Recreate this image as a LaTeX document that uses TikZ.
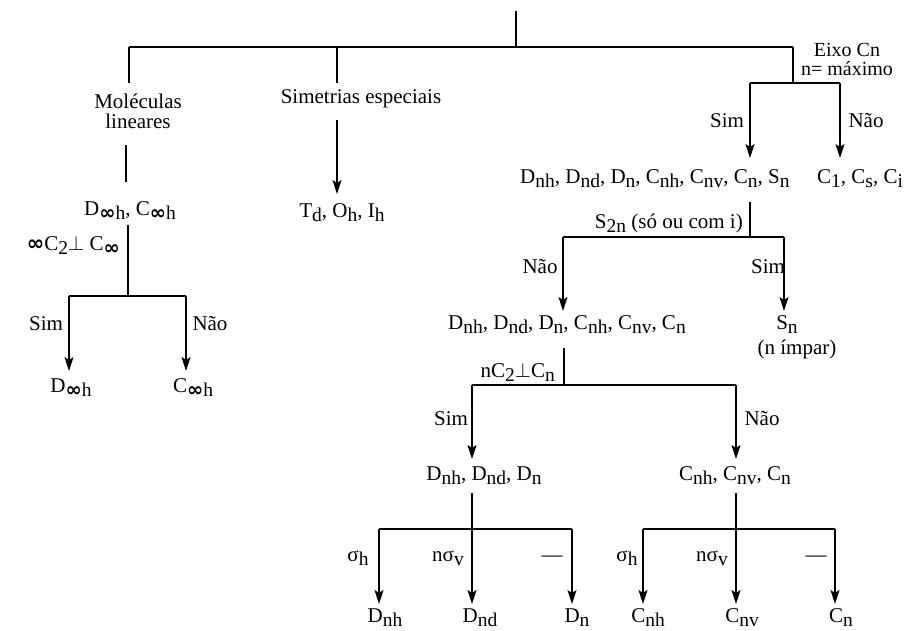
\documentclass[tikz,border=0pt]{standalone}
\usepackage{fontspec}
\setmainfont{Liberation Serif}
\newfontfamily\symf{DejaVu Sans}
\usetikzlibrary{arrows.meta}
\newcommand\lo[1]{\raisebox{-4pt}{\fontsize{19.5}{19.5}\selectfont #1}}
\newcommand\inff{{\symf\bfseries ∞}}
\begin{document}
\begin{tikzpicture}[x=1pt,y=-1pt,
  txt/.style={inner sep=0pt,anchor=base,font=\fontsize{21}{21}\selectfont},
  txtr/.style={txt,anchor=base east},
  txtl/.style={txt,anchor=base west},
  ln/.style={line width=1.1pt},
  arr/.style={ln,-{Stealth[length=14pt,width=9pt,inset=3pt]}}]
\useasboundingbox (0,0) rectangle (909,630);
% ---------- coordinates ----------
\coordinate (top) at (516,11);
\coordinate (j0) at (516,47);
\coordinate (jl) at (129,47);
\coordinate (jm) at (337,47);
\coordinate (jr) at (793,47);
\coordinate (lA) at (129,83);
\coordinate (mA) at (337,83);
\coordinate (rA) at (793,83);
\coordinate (rL) at (750,83);
\coordinate (rR) at (840,83);
\coordinate (rLt) at (750,158);
\coordinate (rRt) at (840,158);
\coordinate (mB) at (337,120);
\coordinate (mBt) at (337,194);
\coordinate (lB) at (126,145);
\coordinate (lBb) at (126,182);
\coordinate (lC) at (128,225);
\coordinate (lCj) at (128,296);
\coordinate (lCl) at (69,296);
\coordinate (lCr) at (186,296);
\coordinate (lClt) at (69,371);
\coordinate (lCrt) at (186,371);
\coordinate (sA) at (750,202);
\coordinate (sJ) at (750,237);
\coordinate (sL) at (563,237);
\coordinate (sR) at (784,237);
\coordinate (sLt) at (563,311);
\coordinate (sRt) at (784,311);
\coordinate (nA) at (564,348);
\coordinate (nJ) at (564,385);
\coordinate (nL) at (472,385);
\coordinate (nR) at (736,385);
\coordinate (nLt) at (472,459);
\coordinate (nRt) at (736,459);
\coordinate (dA) at (472,493);
\coordinate (dJ) at (472,529);
\coordinate (dL) at (379,529);
\coordinate (dR) at (572,529);
\coordinate (dLt) at (379,604);
\coordinate (dMt) at (472,604);
\coordinate (dRt) at (572,604);
\coordinate (cA) at (736,493);
\coordinate (cJ) at (736,529);
\coordinate (cL) at (643,529);
\coordinate (cR) at (835,529);
\coordinate (cLt) at (643,604);
\coordinate (cMt) at (736,604);
\coordinate (cRt) at (835,604);
% ---------- texts ----------
\node[txt] (mol1) at (138,108) {Moléculas};
\node[txt] (mol2) at (138,128) {lineares};
\node[txt] (esp) at (361,103) {Simetrias especiais};
\node[inner sep=0pt,anchor=center,align=center,font=\fontsize{20}{19}\selectfont] (eixo) at (847,59.5) {Eixo Cn\\n= máximo};
\node[txt] (simA) at (727,127) {Sim};
\node[txt] (naoA) at (866,127) {Não};
\node[txtl] (grpA) at (520,183) {D\lo{nh}, D\lo{nd}, D\lo{n}, C\lo{nh}, C\lo{nv}, C\lo{n}, S\lo{n}};
\node[txtl] (low) at (817,183) {C\lo{1}, C\lo{s}, C\lo{i}};
\node[txt] (toi) at (342,217) {T\lo{d}, O\lo{h}, I\lo{h}};
\node[txt] (lin) at (130,215) {D\lo{\inff h}, C\lo{\inff h}};
\node[txtr] (perpA) at (120,250) {\inff C\lo{2}$\perp$ C\lo{\inff}};
\node[txt] (simL) at (46,330) {Sim};
\node[txt] (naoL) at (210,330) {Não};
\node[txt] (dinf) at (71,392) {D\lo{\inff h}};
\node[txt] (cinf) at (193,392) {C\lo{\inff h}};
\node[txtr] (s2n) at (743,228) {S\lo{2n} (só ou com i)};
\node[txt] (naoS) at (540,273) {Não};
\node[txt] (simS) at (768,273) {Sim};
\node[txt] (grpB) at (567,329) {D\lo{nh}, D\lo{nd}, D\lo{n}, C\lo{nh}, C\lo{nv}, C\lo{n}};
\node[txt] (sn) at (787,329) {S\lo{n}};
\node[txt] (impar) at (797,354) {(n ímpar)};
\node[txtr] (perpB) at (555,377) {nC\lo{2}$\perp$C\lo{n}};
\node[txt] (simN) at (451,425) {Sim};
\node[txt] (naoN) at (762,425) {Não};
\node[txt] (grpD) at (484,480) {D\lo{nh}, D\lo{nd}, D\lo{n}};
\node[txt] (grpC) at (735,480) {C\lo{nh}, C\lo{nv}, C\lo{n}};
\node[txt] (shD) at (358,561) {σ\lo{h}};
\node[txt] (svD) at (448,561) {nσ\lo{v}};
\node[txt] (noD) at (552,561) {—};
\node[txt] (shC) at (627,561) {σ\lo{h}};
\node[txt] (svC) at (712,561) {nσ\lo{v}};
\node[txt] (noC) at (816,561) {—};
\node[txt] (Dnh) at (385,622) {D\lo{nh}};
\node[txt] (Dnd) at (480,622) {D\lo{nd}};
\node[txt] (Dn) at (577,622) {D\lo{n}};
\node[txt] (Cnh) at (648,622) {C\lo{nh}};
\node[txt] (Cnv) at (742,622) {C\lo{nv}};
\node[txt] (Cn) at (841,622) {C\lo{n}};
% ---------- connectors ----------
\draw[ln] (top) -- (j0);
\draw[ln] (jl) -- (jr);
\draw[ln] (jl) -- (lA);
\draw[ln] (jm) -- (mA);
\draw[ln] (jr) -- (rA);
\draw[ln] (rL) -- (rR);
\draw[arr] (rL) -- (rLt);
\draw[arr] (rR) -- (rRt);
\draw[arr] (mB) -- (mBt);
\draw[ln] (lB) -- (lBb);
\draw[ln] (lC) -- (lCj);
\draw[ln] (lCl) -- (lCr);
\draw[arr] (lCl) -- (lClt);
\draw[arr] (lCr) -- (lCrt);
\draw[ln] (sA) -- (sJ);
\draw[ln] (sL) -- (sR);
\draw[arr] (sL) -- (sLt);
\draw[arr] (sR) -- (sRt);
\draw[ln] (nA) -- (nJ);
\draw[ln] (nL) -- (nR);
\draw[arr] (nL) -- (nLt);
\draw[arr] (nR) -- (nRt);
\draw[ln] (dA) -- (dJ);
\draw[ln] (dL) -- (dR);
\draw[arr] (dL) -- (dLt);
\draw[arr] (dJ) -- (dMt);
\draw[arr] (dR) -- (dRt);
\draw[ln] (cA) -- (cJ);
\draw[ln] (cL) -- (cR);
\draw[arr] (cL) -- (cLt);
\draw[arr] (cJ) -- (cMt);
\draw[arr] (cR) -- (cRt);
\end{tikzpicture}
\end{document}
